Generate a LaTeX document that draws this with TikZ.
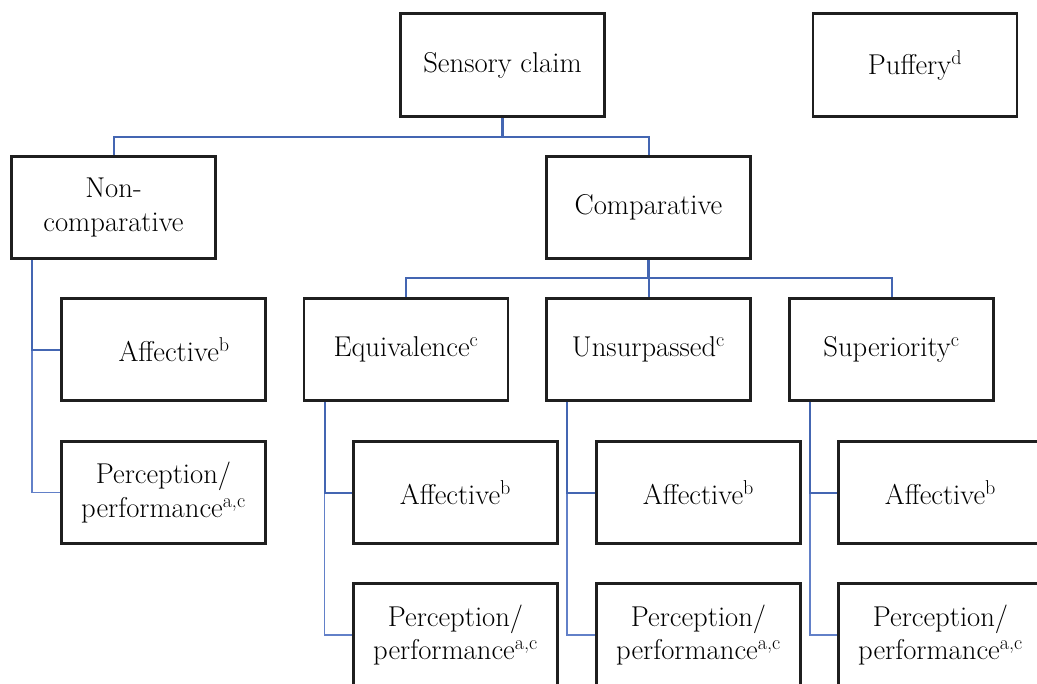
\documentclass[tikz,border=0pt]{standalone}
\definecolor{linkblue}{RGB}{68,102,178}
\definecolor{lightblue}{RGB}{98,128,200}
\tikzset{
    box/.style={draw=black!88, line width=2.2pt, minimum width=153pt, minimum height=77pt,
        align=center, font=\fontsize{21.5}{25}\selectfont, inner sep=2pt},
    link/.style={draw=linkblue, line width=1.5pt},
    thinlink/.style={draw=lightblue, line width=1pt},
    stub/.style={draw=linkblue, line width=2.6pt}
}
\begin{document}
\begin{tikzpicture}[x=0.75pt, y=-0.75pt]
        \useasboundingbox (0,0) rectangle (1037,684);
        \clip (0,0) rectangle (1037,684);
        \begin{scope}
            % top row
            \node[box] (sensory) at (502.5,65) {Sensory claim};
            \node[box] (puffery) at (915,65) {Puffery\textsuperscript{d}};

            % second row
            \node[box] (noncomp) at (113.5,207.5) {Non-\\comparative};
            \node[box] (comp) at (648.5,207.5) {Comparative};

            % third row
            \node[box] (aff0) at (163.5,349.5) {\hspace*{16pt}Affective\textsuperscript{b}};
            \node[box] (equiv) at (406,349.5) {Equivalence\textsuperscript{c}};
            \node[box] (unsurp) at (648.5,349.5) {Unsurpassed\textsuperscript{c}};
            \node[box] (super) at (891.5,349.5) {Superiority\textsuperscript{c}};

            % fourth row
            \node[box] (perc0) at (163.5,492.5) {Perception/\\performance\textsuperscript{a,c}};
            \node[box] (aff1) at (455.5,492.5) {Affective\textsuperscript{b}};
            \node[box] (aff2) at (698.5,492.5) {Affective\textsuperscript{b}};
            \node[box] (aff3) at (940.5,492.5) {Affective\textsuperscript{b}};

            % fifth row
            \node[box] (perc1) at (455.5,635) {Perception/\\performance\textsuperscript{a,c}};
            \node[box] (perc2) at (698.5,635) {Perception/\\performance\textsuperscript{a,c}};
            \node[box] (perc3) at (940.5,635) {Perception/\\performance\textsuperscript{a,c}};

            % sensory claim -> non-comparative / comparative
            \coordinate (j1) at ([shift={(0,19)}]sensory.south);
            \draw[link] (noncomp.north) |- (j1) -| (comp.north);
            \draw[stub] (sensory.south) -- (j1);

            % comparative -> equivalence / unsurpassed / superiority
            \coordinate (j2) at ([shift={(0,18)}]comp.south);
            \draw[link] (equiv.north) |- (j2) -| (super.north);
            \draw[link] (j2) -- (unsurp.north);
            \draw[stub] (comp.south) -- (j2);

            % left-hand branches
            \coordinate (t0) at ([shift={(22,0)}]noncomp.south west);
            \draw[thinlink] (t0) |- (perc0.west);
            \draw[link] (t0) |- (aff0.west);

            \coordinate (t1) at ([shift={(22,0)}]equiv.south west);
            \draw[thinlink] (t1) |- (perc1.west);
            \draw[link] (t1) |- (aff1.west);

            \coordinate (t2) at ([shift={(22,0)}]unsurp.south west);
            \draw[thinlink] (t2) |- (perc2.west);
            \draw[link] (t2) |- (aff2.west);

            \coordinate (t3) at ([shift={(22,0)}]super.south west);
            \draw[thinlink] (t3) |- (perc3.west);
            \draw[link] (t3) |- (aff3.west);
        \end{scope}
    \end{tikzpicture}
\end{document}
